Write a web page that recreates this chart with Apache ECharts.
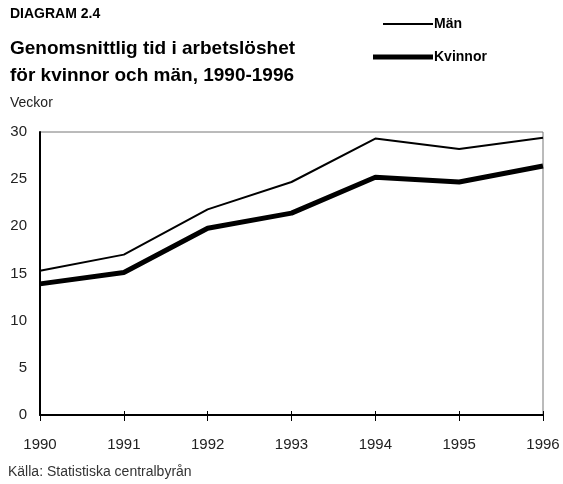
<!DOCTYPE html>
<html>
<head>
<meta charset="utf-8">
<script src="https://cdn.jsdelivr.net/npm/echarts@6/dist/echarts.min.js"></script>
<style>
  html, body { margin: 0; padding: 0; background: #fff; }
  #chart { width: 563px; height: 484px; }
</style>
</head>
<body>
<div id="chart"></div>
<script>
const years = ['1990', '1991', '1992', '1993', '1994', '1995', '1996']
const man = [15.3, 17.0, 21.8, 24.7, 29.3, 28.2, 29.4]
const kvinnor = [13.9, 15.1, 19.8, 21.4, 25.2, 24.7, 26.4]

const font = '"Liberation Sans", Arial, sans-serif'
const chart = echarts.init(document.getElementById('chart'))

chart.setOption({
  animation: false,
  textStyle: { fontFamily: font },
  title: [
    { text: 'DIAGRAM 2.4', left: 5, top: 2, textStyle: { fontSize: 14, fontWeight: 'bold', color: '#000', fontFamily: font } },
    { text: 'Genomsnittlig tid i arbetslöshet\nför kvinnor och män, 1990-1996', left: 5, top: 30,
      textStyle: { fontSize: 19, fontWeight: 'bold', color: '#000', lineHeight: 27, fontFamily: font } },
    { text: 'Veckor', left: 5, top: 91, textStyle: { fontSize: 14, fontWeight: 'normal', color: '#222', fontFamily: font } },
    { text: 'Källa: Statistiska centralbyrån', left: 3, top: 460, textStyle: { fontSize: 14, fontWeight: 'normal', color: '#333', fontFamily: font } }
  ],
  legend: [
    {
      data: ['Män'], left: 378, top: 12, icon: 'rect', itemWidth: 50, itemHeight: 2, itemGap: 0,
      textStyle: { fontSize: 14, fontWeight: 'bold', color: '#000', padding: [0, 0, 0, -4] }
    },
    {
      data: ['Kvinnor'], left: 368, top: 45, icon: 'rect', itemWidth: 60, itemHeight: 5, itemGap: 0,
      textStyle: { fontSize: 14, fontWeight: 'bold', color: '#000', padding: [0, 0, 0, -4] }
    }
  ],
  grid: {
    left: 40, right: 20, top: 132, bottom: 69,
    show: true, borderColor: '#777', borderWidth: 1, backgroundColor: 'transparent'
  },
  xAxis: [
    {
      type: 'category',
      data: years,
      boundaryGap: false,
      axisLine: { lineStyle: { color: '#000', width: 2 } },
      axisTick: { length: 6, lineStyle: { color: '#000' } },
      axisLabel: { color: '#222', fontSize: 15, margin: 22 },
      splitLine: { show: false }
    },
    {
      type: 'category',
      data: years,
      position: 'bottom',
      boundaryGap: false,
      axisLine: { show: false },
      axisTick: { inside: true, length: 4, lineStyle: { color: '#000' } },
      axisLabel: { show: false },
      splitLine: { show: false }
    }
  ],
  yAxis: {
    type: 'value',
    min: 0, max: 30, interval: 5,
    axisLine: { show: true, lineStyle: { color: '#000', width: 2 } },
    axisTick: { show: false },
    axisLabel: { color: '#222', fontSize: 15, margin: 13 },
    splitLine: { show: false }
  },
  series: [
    {
      name: 'Män', type: 'line', data: man, symbol: 'none',
      lineStyle: { color: '#000', width: 2 }, itemStyle: { color: '#000' }
    },
    {
      name: 'Kvinnor', type: 'line', data: kvinnor, symbol: 'none',
      lineStyle: { color: '#000', width: 5 }, itemStyle: { color: '#000' }
    }
  ]
})
</script>
</body>
</html>
